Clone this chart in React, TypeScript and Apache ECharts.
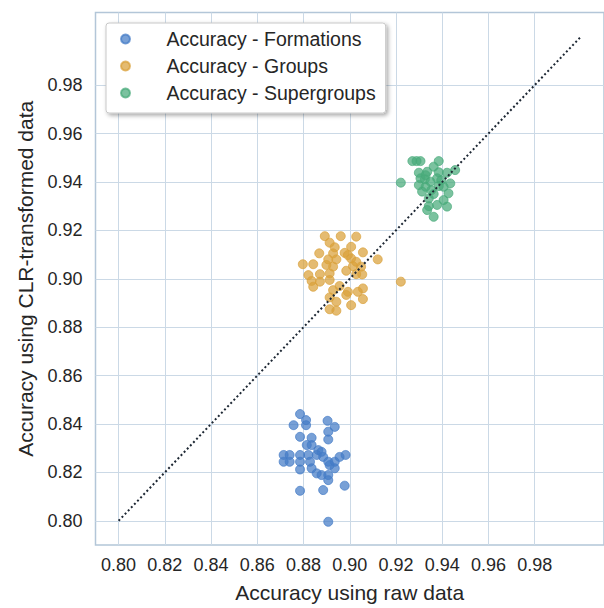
import React, { useEffect, useRef } from "react";
import * as echarts from "echarts";

const tickValues = [0.8, 0.82, 0.84, 0.86, 0.88, 0.9, 0.92, 0.94, 0.96, 0.98];
const diagonal = [[0.8, 0.8], [1.0, 1.0]];
const seriesNames = ["Accuracy - Formations", "Accuracy - Groups", "Accuracy - Supergroups"];

const formations = [
  [0.8785, 0.8441], [0.8811, 0.8416], [0.8811, 0.8395], [0.8757, 0.8395], [0.8904, 0.8413],
  [0.8935, 0.8388], [0.8907, 0.8368], [0.8907, 0.8336], [0.8785, 0.8347], [0.8835, 0.8343],
  [0.8814, 0.8313], [0.8864, 0.8292], [0.8714, 0.8272], [0.874, 0.8272], [0.8714, 0.8244],
  [0.874, 0.8244], [0.8785, 0.8272], [0.8785, 0.8244], [0.8785, 0.8212], [0.8821, 0.8272],
  [0.8828, 0.8244], [0.8835, 0.8217], [0.8857, 0.8272], [0.8878, 0.8285], [0.8885, 0.8264],
  [0.8907, 0.8244], [0.8913, 0.823], [0.8935, 0.8244], [0.8935, 0.8217], [0.8956, 0.8264],
  [0.8982, 0.8272], [0.8857, 0.8196], [0.8878, 0.8189], [0.8907, 0.8189], [0.8907, 0.8168],
  [0.8785, 0.8124], [0.8885, 0.8127], [0.8978, 0.8145], [0.8907, 0.7996], [0.8835, 0.8313],
];

const groups = [
  [0.8892, 0.9176], [0.8961, 0.9176], [0.9028, 0.9174], [0.8913, 0.9149], [0.8935, 0.913],
  [0.9006, 0.9132], [0.8868, 0.9105], [0.8928, 0.9105], [0.8978, 0.9107], [0.8992, 0.9098],
  [0.9057, 0.9109], [0.8907, 0.908], [0.8942, 0.908], [0.9006, 0.9084], [0.9028, 0.907],
  [0.9121, 0.908], [0.8797, 0.906], [0.8842, 0.906], [0.8899, 0.9057], [0.8928, 0.905],
  [0.9014, 0.9052], [0.9049, 0.905], [0.8985, 0.9033], [0.8821, 0.9015], [0.8871, 0.9019],
  [0.8913, 0.9022], [0.9028, 0.9019], [0.9054, 0.9018], [0.9221, 0.8988], [0.8835, 0.8991],
  [0.8871, 0.8988], [0.8913, 0.8995], [0.8842, 0.8967], [0.8956, 0.897], [0.9057, 0.896],
  [0.8928, 0.8953], [0.8992, 0.8946], [0.9035, 0.8946], [0.8913, 0.8923], [0.8985, 0.8933],
  [0.9057, 0.8916], [0.8942, 0.8905], [0.9006, 0.8891], [0.8913, 0.8874], [0.8942, 0.8868],
];

const supergroups = [
  [0.9271, 0.9486], [0.9289, 0.9486], [0.9306, 0.9486], [0.9385, 0.9486], [0.9299, 0.9438],
  [0.9335, 0.9442], [0.9363, 0.9463], [0.9385, 0.944], [0.9421, 0.9438], [0.9456, 0.9449],
  [0.9221, 0.9397], [0.9306, 0.9415], [0.9325, 0.9411], [0.9349, 0.9401], [0.9378, 0.9415],
  [0.9435, 0.9394], [0.9299, 0.9387], [0.9328, 0.938], [0.9385, 0.9383], [0.9406, 0.938],
  [0.9313, 0.936], [0.9363, 0.935], [0.9427, 0.9353], [0.9342, 0.9332], [0.9406, 0.9325],
  [0.9342, 0.93], [0.9378, 0.9305], [0.9421, 0.9298], [0.9335, 0.9284], [0.9363, 0.9256],
  [0.9328, 0.9428], [0.9396, 0.9407], [0.9353, 0.9366],
];

const colors = ["#447bc6", "#d9a13a", "#48ab7a"];
const FONT = "'Liberation Sans', Arial, sans-serif";

export default function App() {
  const ref = useRef<HTMLDivElement>(null);
  useEffect(() => {
    if (!ref.current) return;
    const chart = echarts.init(ref.current, null, { renderer: "svg" });
    const axisCommon = (name: string, isY: boolean) => ({
      type: "value",
      min: 0.79,
      max: 1.01,
      name,
      nameLocation: "middle",
      nameGap: isY ? 60 : 37,
      nameTextStyle: { fontFamily: FONT, fontSize: 21, color: "#262626" },
      axisLine: { show: false },
      axisTick: { show: false, customValues: tickValues },
      axisLabel: {
        customValues: tickValues,
        formatter: (v: number) => v.toFixed(2),
        fontFamily: FONT,
        fontSize: 18,
        color: "#262626",
        margin: isY ? 13 : 11,
      },
      splitLine: { show: true, lineStyle: { color: "#cbd9e6", width: 1 } },
    });
    const scatter = (i: number, data: number[][]) => ({
      name: seriesNames[i],
      type: "scatter",
      data,
      symbolSize: 9,
      itemStyle: { color: colors[i], opacity: 0.72, borderColor: colors[i], borderWidth: 1 },
      z: 3,
    });
    chart.setOption({
      animation: false,
      backgroundColor: "#ffffff",
      grid: {
        left: 95.5,
        top: 12.5,
        width: 514.5,
        height: 532.5,
        show: true,
        borderColor: "#b3c6d8",
        borderWidth: 1.5,
        backgroundColor: "#ffffff",
      },
      xAxis: axisCommon("Accuracy using raw data", false),
      yAxis: axisCommon("Accuracy using CLR-transformed data", true),
      legend: {
        data: seriesNames.map((n) => ({ name: n, icon: "circle" })),
        orient: "vertical",
        left: 106,
        top: 23,
        padding: [6, 10, 10, 14],
        itemWidth: 26,
        itemHeight: 9,
        itemGap: 7,
        backgroundColor: "#ffffff",
        borderColor: "#c8c8c8",
        borderWidth: 1,
        borderRadius: 3,
        shadowBlur: 4,
        shadowColor: "rgba(0,0,0,0.35)",
        shadowOffsetX: 2,
        shadowOffsetY: 2,
        textStyle: {
          fontFamily: FONT,
          fontSize: 19.5,
          color: "#262626",
          lineHeight: 20,
          padding: [0, 0, 0, 23],
        },
      },
      series: [
        scatter(0, formations),
        scatter(1, groups),
        scatter(2, supergroups),
        {
          name: "diag",
          type: "line",
          data: diagonal,
          symbol: "none",
          lineStyle: { color: "#1d2733", width: 2, type: [2, 2.5] },
          z: 4,
        },
      ],
    });
    return () => chart.dispose();
  }, []);
  return (
    <div
      ref={ref}
      style={{ position: "fixed", left: 0, top: 0, width: 604, height: 608 }}
    />
  );
}
